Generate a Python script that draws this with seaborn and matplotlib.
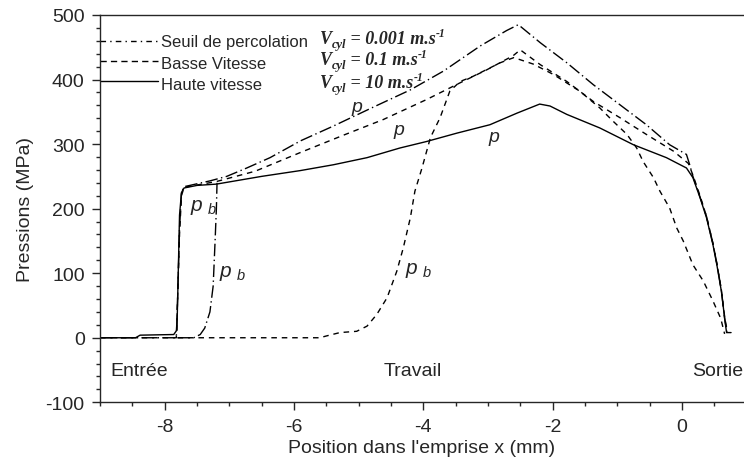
import matplotlib
matplotlib.use('Agg')
import matplotlib.pyplot as plt
import seaborn as sns
from matplotlib.ticker import MultipleLocator
from matplotlib.transforms import offset_copy

# values: x = position (mm), y = pressure (MPa)

# Haute vitesse (solid), p
haute_x = [-9.0, -8.45, -8.38, -7.86, -7.81, -7.79, -7.77, -7.74, -7.7, -7.5, -7.2, -6.5,
           -5.9, -5.39, -4.87, -4.36, -3.95, -3.48, -2.97, -2.55, -2.2, -2.04, -1.78,
           -1.27, -0.75, -0.24, 0.07, 0.17, 0.28, 0.38, 0.48, 0.54, 0.61, 0.66, 0.69, 0.76]
haute_y = [0, 0, 4, 5, 12, 100, 190, 225, 232, 236, 238, 250,
           259, 268, 279, 294, 304, 317, 330, 348, 362, 359, 346,
           325, 299, 279, 263, 248, 217, 186, 144, 113, 72, 31, 8, 8]

# Basse vitesse (dashed), p
basse_x = [-9.0, -7.82, -7.8, -7.77, -7.74, -7.7, -7.2, -6.6, -5.9, -5.23, -4.62, -3.95,
           -3.43, -3.02, -2.61, -2.5, -2.19, -1.78, -1.37, -0.96, -0.55, -0.13, 0.1,
           0.17, 0.28, 0.38, 0.48, 0.54, 0.61, 0.66, 0.7]
basse_y = [0, 0, 60, 160, 220, 233, 242, 258, 287, 314, 338, 369,
           395, 415, 437, 446, 423, 397, 366, 341, 315, 289, 270,
           252, 220, 188, 146, 115, 74, 33, 10]

# Basse vitesse (dashed), p_b
basse_pb_x = [-7.8, -5.6, -5.49, -5.29, -5.03, -4.87, -4.72, -4.56, -4.41, -4.31, -4.2,
              -4.13, -4.02, -3.89, -3.74, -3.59, -3.43, -3.23, -2.81, -2.6, -2.3, -1.99,
              -1.58, -1.27, -1.06, -0.85, -0.7, -0.6, -0.44, -0.34, -0.19, -0.08, 0.02,
              0.17, 0.33, 0.48, 0.6, 0.66]
basse_pb_y = [0, 0, 3, 8, 10, 18, 36, 62, 103, 139, 186,
              227, 263, 310, 341, 382, 397, 405, 426, 434, 424, 408,
              382, 356, 335, 315, 294, 273, 248, 227, 201, 170, 150,
              113, 88, 57, 30, 6]

# Seuil de percolation (dash-dot), p
seuil_x = [-9.0, -7.82, -7.8, -7.77, -7.74, -7.7, -7.3, -7.04, -6.73, -6.37, -5.9, -5.39,
           -4.8, -4.2, -3.69, -3.12, -2.71, -2.53, -2.19, -1.78, -1.37, -0.96, -0.55,
           -0.19, 0.07, 0.12, 0.17, 0.28, 0.38, 0.48, 0.54, 0.61, 0.66, 0.7]
seuil_y = [0, 0, 60, 170, 225, 234, 243, 250, 263, 279, 305, 328,
           356, 384, 413, 452, 476, 485, 457, 426, 392, 361, 330,
           299, 284, 268, 250, 218, 188, 146, 115, 74, 30, 6]

# Seuil de percolation (dash-dot), p_b
seuil_pb_x = [-7.8, -7.55, -7.45, -7.38, -7.3, -7.25, -7.22, -7.2, -7.19]
seuil_pb_y = [0, 0, 5, 15, 40, 80, 150, 200, 240]

legend_labels = ['Seuil de percolation', 'Basse Vitesse', 'Haute vitesse']
vcyl_values = ['0.001', '0.1', '10']
zone_labels = ['Entrée', 'Travail', 'Sortie']

sns.set_style('ticks')
plt.rcParams['font.family'] = ['Liberation Sans', 'DejaVu Sans']
plt.rcParams['axes.unicode_minus'] = False
plt.rcParams['mathtext.fontset'] = 'custom'
plt.rcParams['mathtext.sf'] = 'Liberation Sans:italic'

SEUIL_DASH = (9, 2.5, 1, 2.5)
BASSE_DASH = (4, 3.5)
FS = 14

fig = plt.figure(figsize=(7.44, 4.64), dpi=100)
ax = fig.add_axes([100 / 744, 1 - 403.3 / 464, 1 - 100 / 744, (403.3 - 16) / 464])
renderer = fig.canvas.get_renderer()

curves = [
    (haute_x, haute_y, None),
    (basse_x, basse_y, BASSE_DASH),
    (basse_pb_x, basse_pb_y, BASSE_DASH),
    (seuil_x, seuil_y, SEUIL_DASH),
    (seuil_pb_x, seuil_pb_y, SEUIL_DASH),
]
for xs, ys, dash in curves:
    sns.lineplot(x=xs, y=ys, ax=ax, color='black', lw=1.0, sort=False, estimator=None)
    if dash is not None:
        ax.lines[-1].set_dashes(dash)

ax.set_xlim(-9, 0.96)
ax.set_ylim(-100, 500)
ax.xaxis.set_major_locator(MultipleLocator(2))
ax.xaxis.set_minor_locator(MultipleLocator(0.5))
ax.yaxis.set_major_locator(MultipleLocator(100))
ax.yaxis.set_minor_locator(MultipleLocator(20))
ax.tick_params(which='major', direction='out', length=6, width=1, labelsize=FS, pad=5)
ax.tick_params(which='minor', direction='out', length=3, width=1)
ax.spines['right'].set_visible(False)
for s in ['left', 'bottom', 'top']:
    ax.spines[s].set_linewidth(1.0)

ax.set_xlabel("Position dans l'emprise x (mm)", fontsize=FS, labelpad=3)
ax.set_ylabel('Pressions (MPa)', fontsize=FS, labelpad=8)


def rich_text(x, y, pieces):
    # pieces: (text, size, vertical offset in points), placed one after another
    dx = 0
    for s, size, dy in pieces:
        tr = offset_copy(ax.transData, fig=fig, x=dx, y=dy, units='points')
        t = ax.text(x, y, s, fontsize=size, transform=tr, va='baseline', ha='left',
                    family='Liberation Serif', weight='bold', style='italic')
        dx += t.get_window_extent(renderer=renderer).width * 72 / fig.dpi


# legend drawn by hand, handles start at the axis
handle_y = [460, 429, 397]
text_y = [452, 418.5, 385]
vcyl_y = [457, 424, 388]
handle_dash = [(4, 3, 1, 3), (4.5, 3), None]
for hy, ty, vy, lab, val, d in zip(handle_y, text_y, vcyl_y, legend_labels, vcyl_values, handle_dash):
    ln, = ax.plot([-9, -8.11], [hy, hy], color='black', lw=1.0)
    if d is not None:
        ln.set_dashes(d)
    ax.text(-8.06, ty, lab, fontsize=12, va='baseline', ha='left')
    rich_text(-5.6, vy, [('V', 13, 0), ('cyl', 9, -3), (' = ' + val + ' m.s', 13, 0), ('-1', 8.5, 5)])

# curve annotations
ax.text(-5.03, 358, 'p', fontsize=FS, style='italic', ha='center', va='center')
ax.text(-4.37, 322, 'p', fontsize=FS, style='italic', ha='center', va='center')
ax.text(-2.91, 312, 'p', fontsize=FS, style='italic', ha='center', va='center')
for px, py in [(-7.4, 204), (-6.96, 101), (-4.08, 106)]:
    ax.text(px, py, r'$\mathsf{p}_{\ \mathsf{b}}$', fontsize=15, ha='center', va='center')

ax.text(-8.84, -50, zone_labels[0], fontsize=FS, ha='left', va='center')
ax.text(-4.17, -50, zone_labels[1], fontsize=FS, ha='center', va='center')
ax.text(0.15, -50, zone_labels[2], fontsize=FS, ha='left', va='center')

fig.savefig('out.png', dpi=100)
